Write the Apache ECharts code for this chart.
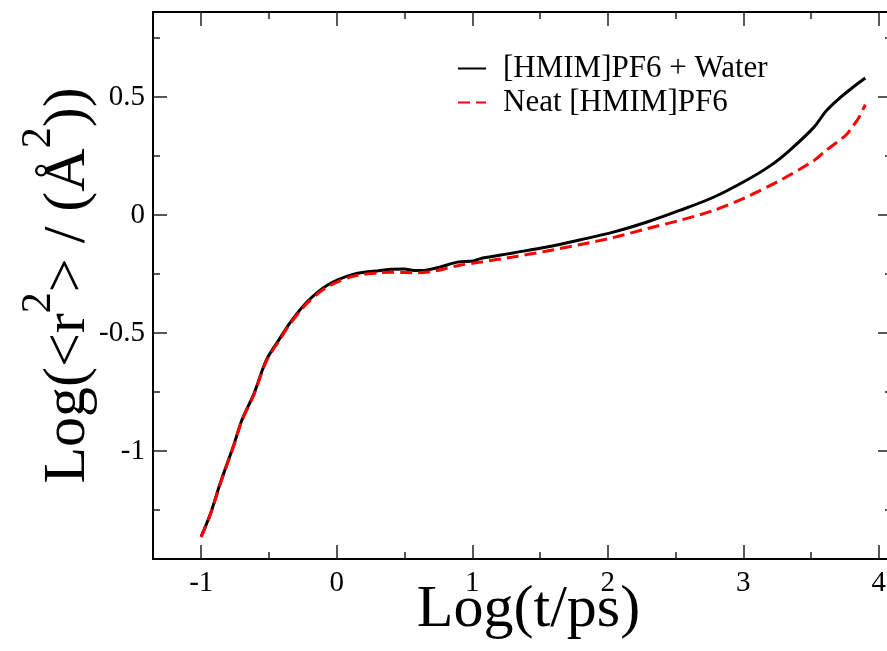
<!DOCTYPE html>
<html><head><meta charset="utf-8">
<script src="https://cdn.jsdelivr.net/npm/echarts@6/dist/echarts.min.js"></script>
<style>html,body{margin:0;padding:0;background:#fff}#c{width:887px;height:651px}</style>
</head><body><div id="c"></div>
<script>
// Log(t/ps) and Log(<r^2>/(Å^2))
const waterT = [-1.0, -0.93, -0.86, -0.76, -0.70, -0.61, -0.52, -0.42, -0.34, -0.22, -0.07, 0.12, 0.32, 0.40, 0.50, 0.57, 0.64, 0.76, 0.89, 1.01, 1.06, 1.20, 1.30, 1.55, 1.80, 2.04, 2.29, 2.53, 2.78, 3.02, 3.20, 3.34, 3.52, 3.61, 3.70, 3.80, 3.90];
const waterY = [-1.362, -1.263, -1.137, -0.975, -0.869, -0.756, -0.615, -0.523, -0.453, -0.369, -0.298, -0.252, -0.235, -0.230, -0.229, -0.235, -0.235, -0.221, -0.200, -0.195, -0.185, -0.171, -0.161, -0.136, -0.105, -0.073, -0.030, 0.019, 0.075, 0.146, 0.209, 0.273, 0.371, 0.440, 0.490, 0.537, 0.580];
const neatT = [-1.0, -0.93, -0.86, -0.76, -0.70, -0.61, -0.52, -0.42, -0.34, -0.22, -0.07, 0.12, 0.32, 0.40, 0.50, 0.60, 0.70, 0.80, 0.90, 1.06, 1.30, 1.55, 1.80, 2.04, 2.29, 2.53, 2.78, 3.02, 3.27, 3.52, 3.61, 3.70, 3.76, 3.80, 3.85, 3.90];
const neatY = [-1.365, -1.265, -1.140, -0.978, -0.872, -0.760, -0.620, -0.528, -0.458, -0.375, -0.305, -0.260, -0.245, -0.243, -0.244, -0.245, -0.240, -0.228, -0.214, -0.200, -0.178, -0.153, -0.125, -0.096, -0.058, -0.023, 0.019, 0.075, 0.146, 0.230, 0.273, 0.312, 0.340, 0.370, 0.410, 0.468];
const seriesNames = ['[HMIM]PF6 + Water', 'Neat [HMIM]PF6'];
const xMajor = [-1, 0, 1, 2, 3, 4];
const xMinor = [-0.5, 0.5, 1.5, 2.5, 3.5];
const yMajor = [-1, -0.5, 0, 0.5];
const yMinor = [-1.25, -0.75, -0.25, 0.25, 0.75];

const FONT = "'Liberation Serif', 'Times New Roman', serif";
const X_MIN = -1.356, X_MAX = 4.097, Y_MIN = -1.458, Y_MAX = 0.86;

function zip(a, b) { return a.map((v, i) => [v, b[i]]); }

function axis(kind, position, ticks, len, showLine, labels, extra) {
  const isX = kind === 'x';
  return Object.assign({
    type: 'value', position: position,
    min: isX ? X_MIN : Y_MIN, max: isX ? X_MAX : Y_MAX,
    splitLine: { show: false },
    axisLine: { show: showLine, onZero: false, lineStyle: { color: '#000', width: 2 } },
    axisTick: { show: true, inside: true, length: len, customValues: ticks, lineStyle: { color: '#222', width: 1.5 } },
    axisLabel: labels ? { show: true, customValues: ticks, fontFamily: FONT, fontSize: 29, color: '#000', margin: isX ? 10 : 8 } : { show: false },
    axisPointer: { show: false }
  }, extra || {});
}

const chart = echarts.init(document.getElementById('c'), null, { renderer: 'canvas' });
chart.setOption({
  animation: false,
  backgroundColor: '#fff',
  grid: { left: 153, top: 12, right: -5, bottom: 92, containLabel: false, outerBoundsMode: 'none' },
  legend: {
    orient: 'vertical', left: 452, top: 48, itemWidth: 28, itemHeight: 14, itemGap: 3,
    itemStyle: { opacity: 0 },
    textStyle: { fontFamily: FONT, fontSize: 31, color: '#000', padding: [0, 0, 0, 12] },
    data: seriesNames
  },
  xAxis: [
    axis('x', 'bottom', xMajor, 14, true, true, {
      name: 'Log(t/ps)', nameLocation: 'middle', nameGap: 21, nameMoveOverlap: false,
      nameTextStyle: { fontFamily: FONT, fontSize: 60, color: '#000', padding: [0, 0, 0, 12] }
    }),
    axis('x', 'bottom', xMinor, 7, false, false),
    axis('x', 'top', xMajor, 14, true, false),
    axis('x', 'top', xMinor, 7, false, false)
  ],
  yAxis: [
    axis('y', 'left', yMajor, 14, true, true, {
      name: '{m|Log(<r}{s|2}{m|> / (Å}{s|2}{m|))}', nameLocation: 'middle', nameGap: 55, nameRotate: 90, nameMoveOverlap: false,
      nameTextStyle: {
        fontFamily: FONT, fontSize: 60, color: '#000',
        rich: {
          m: { fontFamily: FONT, fontSize: 60, color: '#000', lineHeight: 80, verticalAlign: 'bottom' },
          s: { fontFamily: FONT, fontSize: 42, color: '#000', lineHeight: 42, verticalAlign: 'top' }
        }
      }
    }),
    axis('y', 'left', yMinor, 7, false, false),
    axis('y', 'right', yMajor, 14, true, false),
    axis('y', 'right', yMinor, 7, false, false)
  ],
  series: [
    { name: seriesNames[0], type: 'line', xAxisIndex: 0, yAxisIndex: 0, data: zip(waterT, waterY),
      showSymbol: false, symbol: 'none', smooth: 0.3, lineStyle: { color: '#000', width: 3 }, itemStyle: { color: '#000' } },
    { name: seriesNames[1], type: 'line', xAxisIndex: 0, yAxisIndex: 0, data: zip(neatT, neatY),
      showSymbol: false, symbol: 'none', smooth: 0.3, lineStyle: { color: '#ff0000', width: 3, type: [12, 6] }, itemStyle: { color: '#ff0000' } }
  ]
});
</script></body></html>
